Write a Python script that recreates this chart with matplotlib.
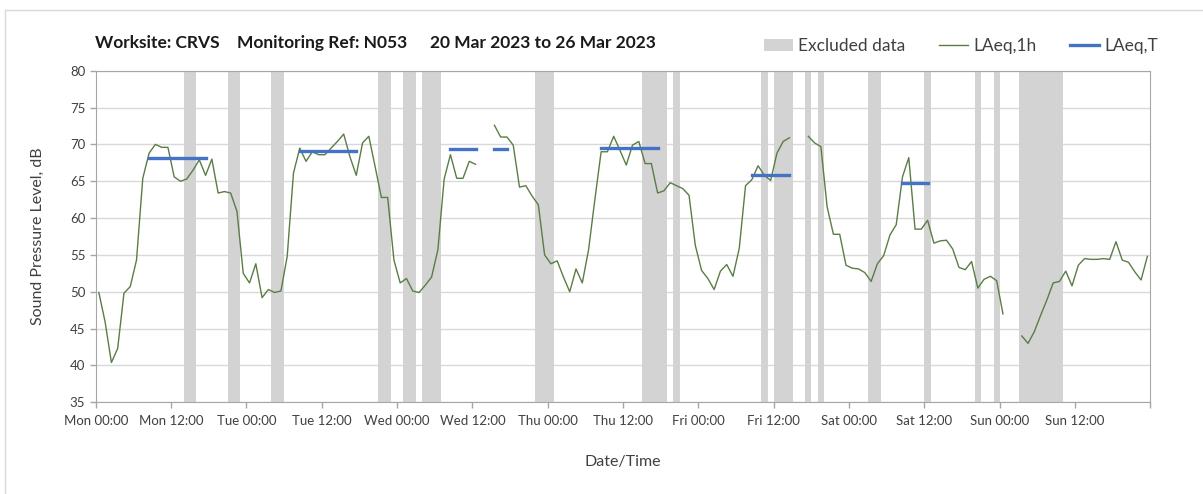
import numpy as np
import matplotlib.pyplot as plt
from matplotlib.lines import Line2D
from matplotlib.patches import Patch

plt.rcParams['font.family'] = ['Lato', 'DejaVu Sans']

# hourly LAeq,1h values, Mon 00:00 .. Sun 23:00 (None = no data)
laeq_1h = [
    49.9, 45.9, 40.4, 42.3, 49.8, 50.7, 54.3, 65.4, 68.8, 70.0, 69.6, 69.6,
    65.6, 65.0, 65.3, 66.5, 67.9, 65.8, 68.0, 63.4, 63.6, 63.4, 60.9, 52.5,
    51.2, 53.8, 49.2, 50.3, 49.9, 50.1, 54.8, 66.1, 69.5, 67.7, 69.0, 68.6,
    68.6, 69.5, 70.4, 71.4, 68.3, 65.8, 70.2, 71.1, 67.0, 62.8, 62.8, 54.3,
    51.2, 51.8, 50.1, 49.9, 50.9, 52.0, 55.7, 65.3, 68.6, 65.4, 65.4, 67.7,
    67.3, None, None, 72.6, 71.0, 71.0, 69.9, 64.2, 64.4, 63.0, 61.8, 55.0,
    53.8, 54.2, 52.0, 50.0, 53.1, 51.2, 55.7, 62.5, 69.0, 69.0, 71.1, 69.2,
    67.2, 69.9, 70.4, 67.4, 67.4, 63.4, 63.7, 64.8, 64.4, 64.0, 63.1, 56.3,
    52.9, 51.8, 50.3, 52.8, 53.7, 52.1, 55.9, 64.4, 65.2, 67.1, 65.8, 65.1,
    68.8, 70.4, 70.9, None, None, 71.1, 70.2, 69.7, 61.5, 57.8, 57.8, 53.6,
    53.2, 53.1, 52.6, 51.4, 53.8, 54.9, 57.7, 59.1, 65.6, 68.2, 58.5, 58.5,
    59.7, 56.6, 56.9, 57.0, 55.8, 53.3, 53.0, 54.1, 50.5, 51.7, 52.1, 51.5,
    47.0, None, None, 44.0, 43.0, 44.6, 46.8, 48.9, 51.2, 51.4, 52.8, 50.8,
    53.6, 54.5, 54.4, 54.4, 54.5, 54.4, 56.8, 54.3, 54.0, 52.7, 51.6, 54.8,
]

# daytime LAeq,T per day: level and first/last hour index
laeq_t_level = [68.2, 69.1, 69.4, 69.5, 65.8, 64.8]
laeq_t_first = [8, 32, 56, 80, 104, 128]
laeq_t_last = [17, 41, 65, 89, 110, 132]

# hours flagged as excluded data
excluded_hours = [14, 15, 21, 22, 28, 29, 45, 46, 49, 50, 52, 53, 54,
                  70, 71, 72, 87, 88, 89, 90, 92, 106, 108, 109, 110,
                  113, 115, 123, 124, 132, 140, 143,
                  147, 148, 149, 150, 151, 152, 153]

tick_labels = ['Mon 00:00', 'Mon 12:00', 'Tue 00:00', 'Tue 12:00',
               'Wed 00:00', 'Wed 12:00', 'Thu 00:00', 'Thu 12:00',
               'Fri 00:00', 'Fri 12:00', 'Sat 00:00', 'Sat 12:00',
               'Sun 00:00', 'Sun 12:00', '']

level = np.array([np.nan if v is None else v for v in laeq_1h])
hours = np.arange(len(level)) + 0.5

laeq_t = np.full(len(level), np.nan)
for lv, a, b in zip(laeq_t_level, laeq_t_first, laeq_t_last):
    laeq_t[a:b + 1] = lv
laeq_t[np.isnan(level)] = np.nan

grey = '#d3d3d3'
green = '#5a7d45'
blue = '#4472c4'
txt = '#404040'

fig = plt.figure(figsize=(12.03, 4.94), dpi=100)
ax = fig.add_axes([95.7 / 1203, 1 - 402.3 / 494, 1054.8 / 1203, 331.6 / 494])

ax.bar(np.array(excluded_hours) + 0.5, 45, bottom=35, width=1.0,
       color=grey, zorder=2)
ax.plot(hours, level, color=green, lw=1.0, zorder=3)
ax.plot(hours, laeq_t, color=blue, lw=2.4, zorder=4)

ax.set_xlim(0, 168)
ax.set_ylim(35, 80)
ax.set_yticks(range(35, 81, 5))
ax.set_xticks(range(0, 169, 12))
ax.set_xticklabels(tick_labels)
ax.set_xticks(range(0, 169, 24), minor=True)
ax.grid(axis='y', which='major', color='#d9d9d9', lw=1.0, zorder=0)
ax.grid(axis='x', which='minor', color='#e3e3e3', lw=1.0, zorder=0)
ax.set_axisbelow(True)

for s in ax.spines.values():
    s.set_color('#a6a6a6')
ax.tick_params(axis='both', which='major', labelsize=9.5, colors='#a6a6a6',
               labelcolor=txt, length=4, width=1.0)
ax.tick_params(axis='x', which='major', pad=5)
ax.tick_params(axis='x', which='minor', length=0)

ax.set_ylabel('Sound Pressure Level, dB', fontsize=11.5, color=txt, labelpad=18)
ax.set_xlabel('Date/Time', fontsize=11.5, color=txt, labelpad=20)

# title pieces
ty = 1 - 43 / 494
tkw = dict(fontsize=12.5, fontweight='bold', va='center', color='#1a1a1a')
fig.text(95 / 1203, ty, 'Worksite: CRVS', **tkw)
fig.text(237 / 1203, ty, 'Monitoring Ref: N053', **tkw)
fig.text(430 / 1203, ty, '20 Mar 2023 to 26 Mar 2023', **tkw)

handles = [Patch(facecolor=grey, edgecolor='none'),
           Line2D([], [], color=green, lw=1.0),
           Line2D([], [], color=blue, lw=2.4)]
fig.legend(handles, ['Excluded data', 'LAeq,1h', 'LAeq,T'], ncol=3,
           loc='center right', bbox_to_anchor=(1158 / 1203, 1 - 46 / 494),
           frameon=False, fontsize=12.5, handlelength=1.7, handletextpad=0.3,
           columnspacing=1.9, borderpad=0, borderaxespad=0, labelcolor=txt)

# chart frame (left and top edges visible)
fig.add_artist(Line2D([5 / 1203, 5 / 1203, 1.0], [0, 1 - 10 / 494, 1 - 10 / 494],
                      transform=fig.transFigure, color='#d9d9d9', lw=1.0))

fig.savefig('out.png', dpi=100)
